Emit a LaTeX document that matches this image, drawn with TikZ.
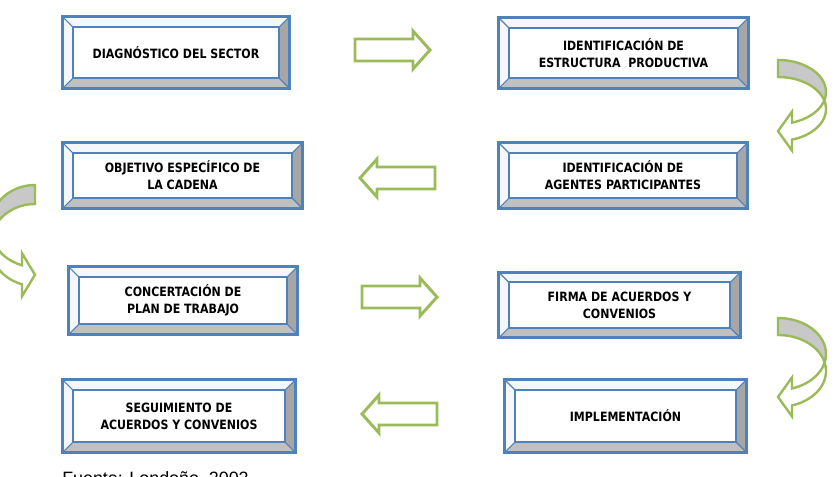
\documentclass[tikz,border=0pt]{standalone}
\usepackage{fontspec}
\setmainfont{DejaVu Sans}
\newfontfamily\pasofont{DejaVu Sans}[FakeStretch=0.86]
\newfontfamily\fuentefont{Liberation Sans}

\definecolor{boxblue}{HTML}{4F81BD}
\definecolor{arrowgreen}{HTML}{9BBB59}
\definecolor{bevdark}{HTML}{A6A6A6}
\definecolor{bevmid}{HTML}{C0C0C0}
\definecolor{bevlight}{HTML}{F5F7FB}
\definecolor{backgray}{HTML}{C8C8C8}

\tikzset{
  paso/.style 2 args={inner sep=0pt, align=center, minimum width=#1*0.75pt, minimum height=#2*0.75pt,
    font=\pasofont\bfseries\fontsize{9.6}{12.8}\selectfont},
  blockarrow/.style={draw=arrowgreen, line width=2.2pt, fill=white},
  bentback/.style={draw=arrowgreen, line width=1.8pt, fill=backgray},
  bentfront/.style={draw=arrowgreen, line width=1.8pt, fill=white},
}

% bevelled frame round a node
\newcommand{\bevel}[1]{%
  \fill[bevlight] (#1.north west) -- (#1.north east) -- ([shift={(-10,10)}]#1.north east) -- ([shift={(10,10)}]#1.north west) -- ([shift={(10,-10)}]#1.south west) -- (#1.south west) -- cycle;
  \fill[bevdark] (#1.north east) -- (#1.south east) -- ([shift={(-10,-10)}]#1.south east) -- ([shift={(-10,10)}]#1.north east) -- cycle;
  \fill[bevmid] (#1.south west) -- (#1.south east) -- ([shift={(-10,-10)}]#1.south east) -- ([shift={(10,-10)}]#1.south west) -- cycle;
  \draw[boxblue, line width=1.3pt] ([shift={(10,10)}]#1.north west) rectangle ([shift={(-10,-10)}]#1.south east);
  \draw[boxblue, line width=0.8pt] (#1.north west) -- ++(10,10) (#1.north east) -- ++(-10,10) (#1.south west) -- ++(10,-10) (#1.south east) -- ++(-10,-10);
  \draw[boxblue, line width=2pt] (#1.north west) rectangle (#1.south east);
}

% curved arrow: tip x, top y, x radius, y radius, band, head length, barb
\newcommand{\bentarrow}[7]{%
  \pgfmathsetmacro\bal{asin(#5/(2*#4))}
  \pgfmathsetmacro\bga{acos(#6/#3)}
  \pgfmathsetmacro\bxi{#1+#3*cos(\bal)}
  \pgfmathsetmacro\byi{#2+#4+#4*sin(\bal)}
  \pgfmathsetmacro\bya{#2+#4+#4*sin(\bga)}
  \pgfmathsetmacro\byb{#2+#5+#4+#4*sin(\bga)}
  \draw[bentback] (#1,#2) arc[start angle=-90, end angle=\bal, x radius=#3, y radius=#4]
    arc[start angle=-\bal, end angle=-90, x radius=#3, y radius=#4] -- cycle;
  \draw[bentfront] (\bxi,\byi) arc[start angle=\bal, end angle=\bga, x radius=#3, y radius=#4]
    -- (#1+#6,\bya-#7) -- (#1,{(\bya+\byb)/2}) -- (#1+#6,\byb+#7) -- (#1+#6,\byb)
    arc[start angle=\bga, end angle=-\bal, x radius=#3, y radius=#4] -- cycle;
}

\begin{document}
\begin{tikzpicture}[x=0.75pt, y=-0.75pt]
\useasboundingbox (0,0) rectangle (834,476);
\clip (0,0) rectangle (834,476);

\node[paso={226}{71}] (diag) at (176,52.5) {DIAGNÓSTICO DEL SECTOR};
\node[paso={249}{70}] (estr) at (623.5,53) {IDENTIFICACIÓN DE\\ESTRUCTURA\ \ PRODUCTIVA};
\node[paso={239}{65}] (obj) at (182.5,175.5) {OBJETIVO ESPECÍFICO DE\\LA CADENA};
\node[paso={248}{65}] (agen) at (623,175.5) {IDENTIFICACIÓN DE\\AGENTES PARTICIPANTES};
\node[paso={228}{67}] (conc) at (183,300.5) {CONCERTACIÓN DE\\PLAN DE TRABAJO};
\node[paso={241}{65}] (firma) at (619.5,305) {FIRMA DE ACUERDOS Y\\CONVENIOS};
\node[paso={232}{72}] (seg) at (179,416) {SEGUIMIENTO DE\\ACUERDOS Y CONVENIOS};
\node[paso={241}{72}] (impl) at (625.5,416) {IMPLEMENTACIÓN};

\foreach \n in {diag,estr,obj,agen,conc,firma,seg,impl}
  \bevel{\n};

% straight arrows
\foreach \ax/\ay/\ad in {355/50/1, 435/178/-1, 362/297/1, 437/414/-1}
  \draw[blockarrow] (\ax,\ay-11) -- ++(58*\ad,0) -- ++(0,-8) -- ++(17*\ad,19) -- ++(-17*\ad,19) -- ++(0,-8) -- ++(-58*\ad,0) -- cycle;

% curved arrows
\bentarrow{778}{60}{48}{32}{17}{14}{11}
\bentarrow{778}{318}{48}{36}{17}{14}{11}
\begin{scope}[shift={(35,0)}, xscale=-1]
  \bentarrow{0}{185}{45}{41}{19}{13}{12}
\end{scope}

\node[anchor=base west, inner sep=0pt, font=\fuentefont\fontsize{13.4}{16}\selectfont] (fuente) at (62,484) {Fuente: Londoño, 2002};
\end{tikzpicture}
\end{document}
